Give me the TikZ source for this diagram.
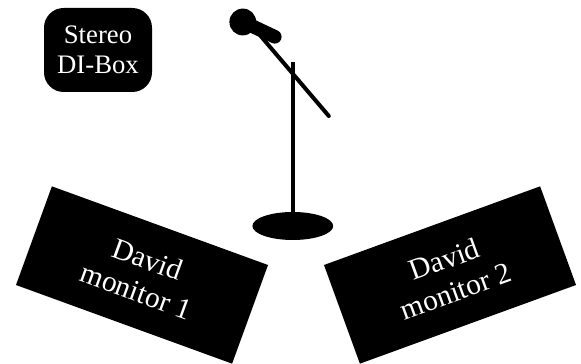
\documentclass[tikz,border=0pt]{standalone}
\usepackage{xcolor}
\usepackage{fontspec}
\setmainfont{Liberation Serif}

\begin{document}
\begin{tikzpicture}[
  every node/.style={font=\fontsize{21}{24}\selectfont},
  blackbox/.style={fill=black, text=white, align=center, inner sep=0pt},
  monitorbox/.style={blackbox, minimum width=5.75cm, minimum height=2.625cm},
  stand/.style={line width=1mm},
]

\useasboundingbox (0,0) rectangle (14.525,9.1);

% stereo box
\node[blackbox, rounded corners=14pt, minimum width=2.7cm, minimum height=2.1cm, font=\fontsize{19}{21.5}\selectfont] (dibox) at (2.45,7.85) {Stereo\\DI-Box};

% microphone and stand
\draw[stand] (7.32,7.55) -- (7.32,3.4);
\draw[stand, line cap=round] (6.5,8.22) -- (8.22,6.2);
\draw[line width=3.4mm, line cap=round] (6.3,8.45) -- (6.87,8.18);
\fill (6.07,8.55) circle (0.335);
\fill (7.32,3.45) ellipse (1.01 and 0.35);

% monitors
\node[monitorbox, rotate=-20] (monitorA) at (3.55,2.225) {David\\monitor 1};
\node[monitorbox, rotate=20] (monitorB) at (11.25,2.225) {David\\monitor 2};

\end{tikzpicture}
\end{document}
